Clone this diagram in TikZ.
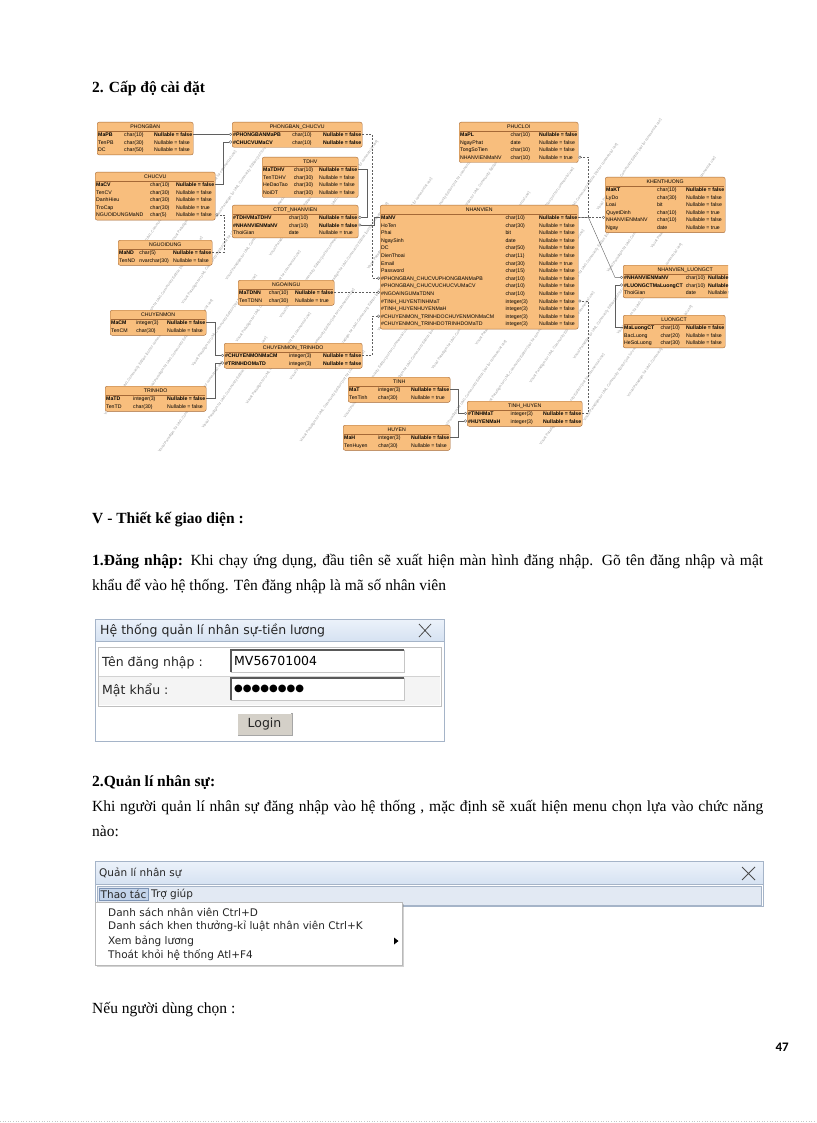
\documentclass[tikz,border=0pt]{standalone}
\usepackage{fontspec}
\usepackage{colortbl}
\setmainfont{Liberation Serif}
\newfontfamily\erfont{Liberation Sans}
\newfontfamily\uifont{DejaVu Sans}
\newfontfamily\pagefont{Carlito}
\usetikzlibrary{arrows.meta,positioning,shadows}

\definecolor{erfill}{RGB}{248,190,125}
\definecolor{erdraw}{RGB}{165,105,55}
\definecolor{erline}{RGB}{95,95,95}
\definecolor{winborder}{RGB}{165,180,200}
\definecolor{wintop}{RGB}{236,242,250}
\definecolor{winbottom}{RGB}{214,226,242}
\definecolor{barfill}{RGB}{226,233,243}
\definecolor{hlfill}{RGB}{196,212,234}
\definecolor{hldraw}{RGB}{125,148,182}
\definecolor{btnfill}{RGB}{212,208,200}

\arrayrulecolor{erdraw}
\setlength{\arrayrulewidth}{0.3pt}

% bang CSDL: ten node, vi tri, rong, tieu de, cac dong
\newcommand{\ertab}[5]{%
\node[ertable] (#1) at (#2) {\begin{tabular*}{#3pt}{@{\extracolsep{\fill}}l@{\hspace{3pt}}l@{\hspace{3pt}}l@{}}\multicolumn{3}{c}{#4}\\\hline #5\end{tabular*}};}

\tikzset{
  ertable/.style={draw=erdraw, fill=erfill, rounded corners=2pt, anchor=north west, inner sep=1pt, font=\erfont\fontsize{5.2}{7.6}\selectfont},
  fk/.style={draw=erline, line width=0.4pt, -{Circle[length=3pt,fill=white]}},
  fkdash/.style={fk, dashed, dash pattern=on 2pt off 1.5pt},
  wmark/.style={rotate=55, text=gray!75, inner sep=0, font=\erfont\fontsize{3.6}{4}\selectfont},
  heading/.style={anchor=base west, inner sep=0, font=\bfseries\fontsize{15.5}{25}\selectfont},
  bodytext/.style={anchor=base west, inner sep=0, text width=671pt, align=justify, font=\fontsize{15.5}{25}\selectfont},
  window/.style={draw=winborder, fill=white, anchor=north west, inner sep=0},
  titlebar/.style={draw=winborder, top color=wintop, bottom color=winbottom, anchor=north west, inner sep=0},
  uitext/.style={inner sep=0, text=black!85, font=\uifont\fontsize{12.5}{15}\selectfont},
  menutext/.style={inner sep=0, text=black!85, font=\uifont\fontsize{10.5}{13}\selectfont},
  textbox/.style={draw=gray!45, fill=white, anchor=north west, inner xsep=3pt, inner ysep=0, minimum height=22pt, text width=167pt, align=left, font=\uifont\fontsize{12.5}{15}\selectfont},
  closex/.style={draw=black!70, line width=0.8pt},
}

\begin{document}
\begin{tikzpicture}[x=1pt,y=-1pt]
\useasboundingbox[fill=white] (0,0) rectangle (816,1123);

%cap do cai dat%
\node[heading] (caphead) at (92,93) {2. Cấp độ cài đặt};

%watermark%
\foreach \v in {-16,...,16}{
  \foreach \u in {-3,...,3}{
    \pgfmathsetmacro\cx{410+\v*22*0.819+(\u*135+mod(\v+30,3)*45)*0.574}
    \pgfmathsetmacro\cy{286+\v*22*0.574-(\u*135+mod(\v+30,3)*45)*0.819}
    \pgfmathtruncatemacro\ok{and(and(\cx>127,\cx<693),and(\cy>164,\cy<409))}
    \ifnum\ok=1
      \node[wmark] at (\cx,\cy) {Visual Paradigm for UML Community Edition [not for commercial use]};
    \fi
  }
}

\begin{scope}
\clip (92,115) rectangle (728,458);
%bang ben trai%
\ertab{phongban}{97,122}{94}{PHONGBAN}{\textbf{MaPB} & char(10) & \textbf{Nullable = false}\\ TenPB & char(30) & Nullable = false\\ DC & char(50) & Nullable = false}
\ertab{pbcv}{232,122}{128}{PHONGBAN\_CHUCVU}{\textbf{\#PHONGBANMaPB} & char(10) & \textbf{Nullable = false}\\ \textbf{\#CHUCVUMaCV} & char(10) & \textbf{Nullable = false}}
\ertab{chucvu}{95,172}{118}{CHUCVU}{\textbf{MaCV} & char(10) & \textbf{Nullable = false}\\ TenCV & char(30) & Nullable = false\\ DanhHieu & char(30) & Nullable = false\\ TroCap & char(30) & Nullable = true\\ NGUOIDUNGMaND & char(5) & Nullable = false}
\ertab{nguoidung}{118,240}{92}{NGUOIDUNG}{\textbf{MaND} & char(5) & \textbf{Nullable = false}\\ TenND & nvarchar(30) & Nullable = false}
\ertab{tdhv}{262,157}{94}{TDHV}{\textbf{MaTDHV} & char(10) & \textbf{Nullable = false}\\ TenTDHV & char(30) & Nullable = false\\ HeDaoTao & char(30) & Nullable = false\\ NoiDT & char(30) & Nullable = false}
\ertab{ctdt}{232,205}{124}{CTDT\_NHANVIEN}{\textbf{\#TDHVMaTDHV} & char(10) & \textbf{Nullable = false}\\ \textbf{\#NHANVIENMaNV} & char(10) & \textbf{Nullable = false}\\ ThoiGian & date & Nullable = true}
\ertab{ngoaingu}{238,280}{94}{NGOAINGU}{\textbf{MaTDNN} & char(10) & \textbf{Nullable = false}\\ TenTDNN & char(30) & Nullable = true}
\ertab{chuyenmon}{110,310}{94}{CHUYENMON}{\textbf{MaCM} & integer(3) & \textbf{Nullable = false}\\ TenCM & char(30) & Nullable = false}
\ertab{cmtd}{224,343}{136}{CHUYENMON\_TRINHDO}{\textbf{\#CHUYENMONMaCM} & integer(3) & \textbf{Nullable = false}\\ \textbf{\#TRINHDOMaTD} & integer(3) & \textbf{Nullable = false}}
\ertab{trinhdo}{105,386}{99}{TRINHDO}{\textbf{MaTD} & integer(3) & \textbf{Nullable = false}\\ TenTD & char(30) & Nullable = false}
%bang o giua%
\ertab{phucloi}{459,122}{117}{PHUCLOI}{\textbf{MaPL} & char(10) & \textbf{Nullable = false}\\ NgayPhat & date & Nullable = false\\ TongSoTien & char(10) & Nullable = false\\ NHANVIENMaNV & char(10) & Nullable = true}
\ertab{nhanvien}{380,205}{196}{NHANVIEN}{\textbf{MaNV} & char(10) & \textbf{Nullable = false}\\ HoTen & char(30) & Nullable = false\\ Phai & bit & Nullable = false\\ NgaySinh & date & Nullable = false\\ DC & char(50) & Nullable = false\\ DienThoai & char(11) & Nullable = false\\ Email & char(30) & Nullable = true\\ Password & char(15) & Nullable = false\\ \#PHONGBAN\_CHUCVUPHONGBANMaPB & char(10) & Nullable = false\\ \#PHONGBAN\_CHUCVUCHUCVUMaCV & char(10) & Nullable = false\\ \#NGOAINGUMaTDNN & char(10) & Nullable = false\\ \#TINH\_HUYENTINHMaT & integer(3) & Nullable = false\\ \#TINH\_HUYENHUYENMaH & integer(3) & Nullable = false\\ \#CHUYENMON\_TRINHDOCHUYENMONMaCM & integer(3) & Nullable = false\\ \#CHUYENMON\_TRINHDOTRINHDOMaTD & integer(3) & Nullable = false}
\ertab{tinh}{348,377}{100}{TINH}{\textbf{MaT} & integer(3) & \textbf{Nullable = false}\\ TenTinh & char(30) & Nullable = true}
\ertab{tinhhuyen}{467,401}{113}{TINH\_HUYEN}{\textbf{\#TINHMaT} & integer(3) & \textbf{Nullable = false}\\ \textbf{\#HUYENMaH} & integer(3) & \textbf{Nullable = false}}
\ertab{huyen}{343,425}{105}{HUYEN}{\textbf{MaH} & integer(3) & \textbf{Nullable = false}\\ TenHuyen & char(30) & Nullable = false}
%bang ben phai%
\ertab{khenthuong}{605,177}{118}{KHENTHUONG}{\textbf{MaKT} & char(10) & \textbf{Nullable = false}\\ LyDo & char(30) & Nullable = false\\ Loai & bit & Nullable = false\\ QuyetDinh & char(10) & Nullable = true\\ NHANVIENMaNV & char(10) & Nullable = false\\ Ngay & date & Nullable = true}
\ertab{nvlct}{623,265}{118}{NHANVIEN\_LUONGCT}{\textbf{\#NHANVIENMaNV} & char(10) & \textbf{Nullable = false}\\ \textbf{\#LUONGCTMaLuongCT} & char(10) & \textbf{Nullable = false}\\ ThoiGian & date & Nullable = true}
\ertab{luongct}{623,315}{100}{LUONGCT}{\textbf{MaLuongCT} & char(10) & \textbf{Nullable = false}\\ BacLuong & char(20) & Nullable = false\\ HeSoLuong & char(30) & Nullable = false}

%lien ket%
\draw[fk] ([yshift=-12.4pt]phongban.north east) -- ([yshift=-12.4pt]pbcv.north west);
\draw[fk] ([yshift=-12.4pt]chucvu.north east) -- ++(8,0) |- ([yshift=-20pt]pbcv.north west);
\draw[fkdash] ([yshift=-12.4pt]nguoidung.north east) -- ++(12,0) |- ([yshift=-42.8pt]chucvu.north east);
\draw[fk] ([yshift=-12.4pt]tdhv.north east) -- ++(9,0) |- ([yshift=-12.4pt]ctdt.north east);
\draw[fk] ([yshift=-12.4pt]nhanvien.north west) -- ++(-6,0) |- ([yshift=-20pt]ctdt.north east);
\draw[fkdash] ([yshift=-12.4pt]pbcv.north east) -- ++(10,0) |- ([yshift=-73.2pt]nhanvien.north west);
\draw[fkdash] ([yshift=-12.4pt]ngoaingu.north east) -- ([yshift=-12.4pt]ngoaingu.north east -| nhanvien.west);
\draw[fkdash] ([yshift=-12.4pt]cmtd.north east) -- ++(10,0) |- ([yshift=-111.2pt]nhanvien.north west);
\draw[fkdash] ([yshift=-12.4pt]nhanvien.north east) -- ++(10,0) |- ([yshift=-35.2pt]phucloi.north east);
\draw[fkdash] ([yshift=-12.4pt]nhanvien.north east) -- ([yshift=-12.4pt]nhanvien.north east -| khenthuong.west);
\draw[fk] ([yshift=-12.4pt]nhanvien.north east) -- ++(10,0) -- ([yshift=-12.4pt,xshift=-8pt]nvlct.north west) -- ([yshift=-12.4pt]nvlct.north west);
\draw[fk] ([yshift=-12.4pt]luongct.north west) -- ++(-8,0) |- ([yshift=-20pt]nvlct.north west);
\draw[fkdash] ([yshift=-12.4pt]tinhhuyen.north east) -- ++(6,0) |- ([yshift=-96pt]nhanvien.north east);
\draw[fk] ([yshift=-12.4pt]tinh.north east) -- ++(8,0) |- ([yshift=-12.4pt]tinhhuyen.north west);
\draw[fk] ([yshift=-12.4pt]huyen.north east) -- ++(8,0) |- ([yshift=-20pt]tinhhuyen.north west);
\draw[fk] ([yshift=-12.4pt]chuyenmon.north east) -- ++(9,0) |- ([yshift=-12.4pt]cmtd.north west);
\draw[fk] ([yshift=-12.4pt]trinhdo.north east) -- ++(9,0) |- ([yshift=-20pt]cmtd.north west);
\end{scope}

%thiet ke giao dien%
\node[heading] (uihead) at (92,523) {V - Thiết kế giao diện :};
\node[bodytext] (loginpara) at (92,565) {\textbf{1.Đăng nhập:} Khi chạy ứng dụng, đầu tiên sẽ xuất hiện màn hình đăng nhập. Gõ tên đăng nhập và mật\linebreak khẩu để vào hệ thống. Tên đăng nhập là mã số nhân viên};

%man hinh dang nhap%
\node[window, minimum width=349pt, minimum height=122pt] (login) at (95,619) {};
\node[titlebar, minimum width=349pt, minimum height=22pt] (logintitle) at (95,619) {};
\node[uitext, anchor=west] (logincaption) at (100,631) {Hệ thống quản lí nhân sự-tiền lương};
\draw[closex] (419,624) -- (431,637) (419,637) -- (431,624);
\node[window, draw=gray!50, minimum width=343pt, minimum height=59pt] (loginpanel) at (98,647) {};
\fill[gray!9] (99,677) rectangle (440,705);
\draw[gray!35] (99,676.5) -- (440,676.5);
\node[uitext, anchor=base west] (userlbl) at (102,666) {Tên đăng nhập :};
\node[uitext, anchor=base west] (passlbl) at (102,694) {Mật khẩu :};
\node[textbox] (userbox) at (231,650) {MV56701004};
\node[textbox, font=\uifont\fontsize{10}{12}\selectfont] (passbox) at (231,678) {●●●●●●●●};
\draw[black!65, line width=1.2pt] (userbox.south west) |- (userbox.north east);
\draw[black!65, line width=1.2pt] (passbox.south west) |- (passbox.north east);
\node[uitext, draw=gray!70, fill=btnfill, minimum width=55pt, minimum height=22pt] (loginbtn) at (264.5,724) {Login};
\draw[white, line width=0.8pt] ([shift={(1pt,-1pt)}]loginbtn.south west) |- ([shift={(-1pt,-1pt)}]loginbtn.north east);

%quan li nhan su%
\node[bodytext] (qlpara) at (92,786) {\textbf{2.Quản lí nhân sự:}\\ Khi người quản lí nhân sự đăng nhập vào hệ thống , mặc định sẽ xuất hiện menu chọn lựa vào chức năng\linebreak nào:};

%man hinh menu%
\node[window, minimum width=668pt, minimum height=45pt] (menuwin) at (95,861) {};
\node[titlebar, minimum width=668pt, minimum height=23pt] (menutitle) at (95,861) {};
\node[menutext, anchor=west] (menucaption) at (99,873) {Quản lí nhân sự};
\draw[closex] (742,867) -- (755,880) (742,880) -- (755,867);
\node[window, draw=winborder, fill=barfill, minimum width=664pt, minimum height=19pt] (menubar) at (97,886) {};
\node[menutext, anchor=north west, draw=hldraw, fill=hlfill, inner xsep=1.5pt, inner ysep=2pt] (thaotac) at (99,887.5) {Thao tác};
\node[menutext, right=3pt of thaotac] (trogiup) {Trợ giúp};
\node[window, draw=gray!55, minimum width=307pt, minimum height=63pt, drop shadow={shadow xshift=1.5pt, shadow yshift=-1.5pt, opacity=0.35}] (dropmenu) at (95,902) {};
\node[menutext, anchor=west] (item1) at (108,912) {Danh sách nhân viên Ctrl+D};
\node[menutext, anchor=west] (item2) at (108,926.5) {Danh sách khen thưởng-kỉ luật nhân viên Ctrl+K};
\node[menutext, anchor=west] (item3) at (108,941) {Xem bảng lương};
\node[menutext, anchor=west] (item4) at (108,955.5) {Thoát khỏi hệ thống Atl+F4};
\fill[black] (394,937.5) -- (398.5,941) -- (394,944.5) -- cycle;

\node[bodytext] (chonpara) at (92,1013) {Nếu người dùng chọn :};

%so trang%
\node[anchor=base east, inner sep=0, font=\pagefont\bfseries\fontsize{13}{15}\selectfont] (pageno) at (789,1051) {47};
\draw[gray!45, dotted, line width=0.6pt] (0,1121) -- (816,1121);
\end{tikzpicture}
\end{document}
